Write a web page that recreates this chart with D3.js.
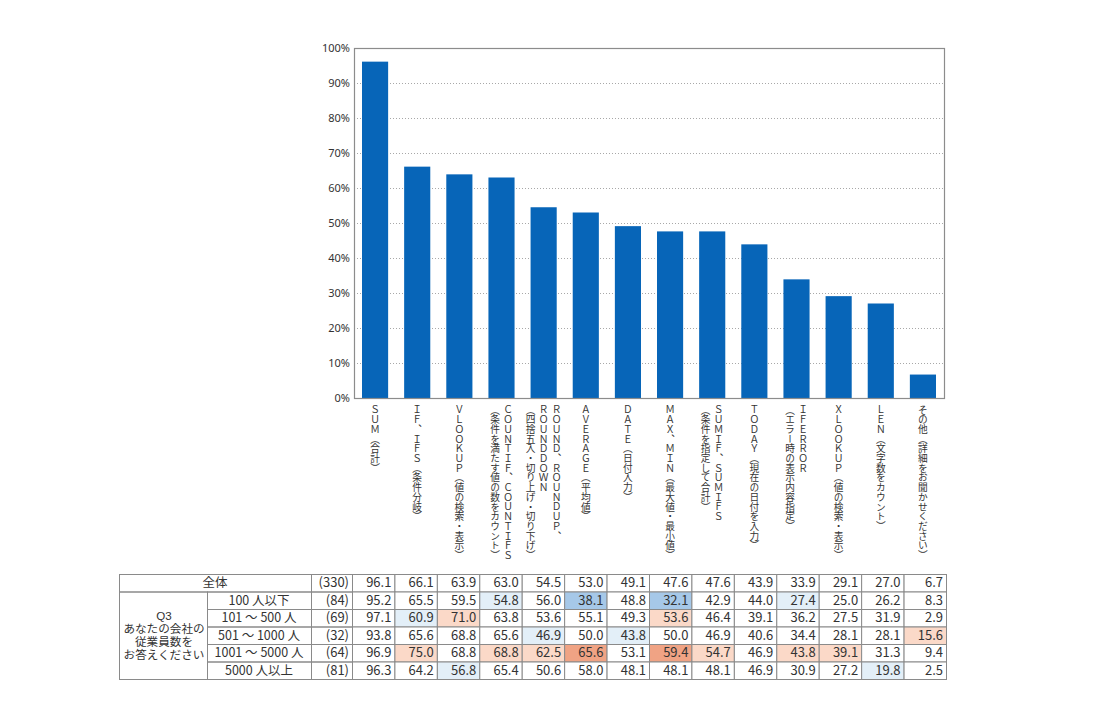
<!DOCTYPE html>
<html>
<head>
<meta charset="utf-8">
<script src="https://cdn.jsdelivr.net/npm/d3@7"></script>
<style>
  body { margin: 0; background: #fff; }
  text { font-family: "Noto Sans CJK JP", "Noto Sans", sans-serif; fill: #333; }
</style>
</head>
<body>
<svg id="chart" width="1100" height="715"></svg>
<script>
// functions asked about (x axis), one entry of lines per bar
var categories = [
  ['ＳＵＭ（合計）'],
  ['ＩＦ、ＩＦＳ（条件分岐）'],
  ['ＶＬＯＯＫＵＰ（値の検索・表示）'],
  ['ＣＯＵＮＴＩＦ、ＣＯＵＮＴＩＦＳ', '（条件を満たす値の数をカウント）'],
  ['ＲＯＵＮＤ、ＲＯＵＮＤＵＰ、', 'ＲＯＵＮＤＤＯＷＮ', '（四捨五入・切り上げ・切り下げ）'],
  ['ＡＶＥＲＡＧＥ（平均値）'],
  ['ＤＡＴＥ（日付入力）'],
  ['ＭＡＸ、ＭＩＮ（最大値・最小値）'],
  ['ＳＵＭＩＦ、ＳＵＭＩＦＳ', '（条件を指定して合計）'],
  ['ＴＯＤＡＹ（現在の日付を入力）'],
  ['ＩＦＥＲＲＯＲ', '（エラー時の表示内容指定）'],
  ['ＸＬＯＯＫＵＰ（値の検索・表示）'],
  ['ＬＥＮ（文字数をカウント）'],
  ['その他（詳細をお聞かせください）']
];

var yTicks = [0, 10, 20, 30, 40, 50, 60, 70, 80, 90, 100];

// table rows
var totalLabel = '全体';
var questionLines = ['Q3', 'あなたの会社の', '従業員数を', 'お答えください'];
var groupLabels = ['100 人以下', '101 ～ 500 人', '501 ～ 1000 人', '1001 ～ 5000 人', '5000 人以上'];
var counts = [330, 84, 69, 32, 64, 81];

var total      = [96.1, 66.1, 63.9, 63.0, 54.5, 53.0, 49.1, 47.6, 47.6, 43.9, 33.9, 29.1, 27.0, 6.7];
var upTo100    = [95.2, 65.5, 59.5, 54.8, 56.0, 38.1, 48.8, 32.1, 42.9, 44.0, 27.4, 25.0, 26.2, 8.3];
var from101    = [97.1, 60.9, 71.0, 63.8, 53.6, 55.1, 49.3, 53.6, 46.4, 39.1, 36.2, 27.5, 31.9, 2.9];
var from501    = [93.8, 65.6, 68.8, 65.6, 46.9, 50.0, 43.8, 50.0, 46.9, 40.6, 34.4, 28.1, 28.1, 15.6];
var from1001   = [96.9, 75.0, 68.8, 68.8, 62.5, 65.6, 53.1, 59.4, 54.7, 46.9, 43.8, 39.1, 31.3, 9.4];
var over5000   = [96.3, 64.2, 56.8, 65.4, 50.6, 58.0, 48.1, 48.1, 48.1, 46.9, 30.9, 27.2, 19.8, 2.5];

var rows = [total, upTo100, from101, from501, from1001, over5000];

var svg = d3.select('#chart');
var idx = d3.range(categories.length);

// ---- bar chart ----
var plot = { left: 354, right: 944, top: 48, bottom: 398 };

var x = d3.scaleBand().domain(idx).range([plot.left, plot.right])
  .paddingInner(0.38).paddingOuter(0.19);
var y = d3.scaleLinear().domain([0, 100]).range([plot.bottom, plot.top]);

svg.append('g').attr('class', 'grid')
  .selectAll('line')
  .data(yTicks.filter(function(t) { return t > 0 && t < 100; }))
  .enter().append('line')
  .attr('x1', plot.left).attr('x2', plot.right)
  .attr('y1', function(d) { return y(d) + 0.5; })
  .attr('y2', function(d) { return y(d) + 0.5; })
  .style('stroke', '#a8a8a8')
  .style('stroke-dasharray', '1,2');

svg.append('g').attr('class', 'bars')
  .selectAll('rect')
  .data(total)
  .enter().append('rect')
  .attr('x', function(d, i) { return x(i); })
  .attr('y', function(d) { return y(d); })
  .attr('width', x.bandwidth())
  .attr('height', function(d) { return y(0) - y(d); })
  .style('fill', '#0765b8');

svg.append('rect')
  .attr('x', plot.left + 0.5).attr('y', plot.top + 0.5)
  .attr('width', plot.right - plot.left).attr('height', plot.bottom - plot.top)
  .style('fill', 'none').style('stroke', '#8c8c8c').style('stroke-width', 1.2);

var yAxis = d3.axisLeft(y).tickValues(yTicks).tickSize(0).tickPadding(4)
  .tickFormat(function(d) { return d + '%'; });
var yg = svg.append('g').attr('transform', 'translate(' + plot.left + ',0)').call(yAxis);
yg.select('.domain').remove();
yg.selectAll('text')
  .style('font-family', '"Noto Sans", sans-serif')
  .style('font-size', '11px')
  .style('fill', '#333');

// vertical category labels
var lineGap = 13;
var labels = svg.append('g').attr('class', 'x-labels');
categories.forEach(function(lines, i) {
  var cx = x(i) + x.bandwidth() / 2;
  labels.selectAll(null)
    .data(lines)
    .enter().append('text')
    .attr('x', function(d, j) { return cx + ((lines.length - 1) / 2 - j) * lineGap; })
    .attr('y', 405)
    .style('writing-mode', 'vertical-rl')
    .style('font-size', '9.7px')
    .text(function(d) { return d; });
});

// ---- table ----
var tbl = { left: 119, groupRight: 207, labelRight: 311, nRight: 352, right: 946, top: 574, rowH: 17.5 };
var col = d3.scaleBand().domain(idx).range([tbl.nRight, tbl.right]);
var rowY = function(r) { return tbl.top + r * tbl.rowH; };

function cellFill(v, base) {
  var d = Math.round((v - base) * 10) / 10;
  if (d > 10) return '#f0a384';
  if (d > 5) return '#fbd9c8';
  if (d < -10) return '#a6c8e8';
  if (d < -5) return '#e3eff8';
  return '#fff';
}

var tg = svg.append('g').attr('class', 'table');
var border = '#8a8a8a';

rows.forEach(function(vals, r) {
  tg.selectAll(null)
    .data(vals)
    .enter().append('rect')
    .attr('x', function(d, i) { return col(i) + 0.5; })
    .attr('y', rowY(r) + 0.5)
    .attr('width', col.bandwidth())
    .attr('height', tbl.rowH)
    .style('fill', function(d, i) { return cellFill(d, total[i]); })
    .style('stroke', border);

  tg.selectAll(null)
    .data(vals)
    .enter().append('text')
    .attr('x', function(d, i) { return col(i) + col.bandwidth() - 3; })
    .attr('y', rowY(r) + tbl.rowH / 2 + 1)
    .attr('text-anchor', 'end')
    .attr('dominant-baseline', 'middle')
    .style('font-size', '13px')
    .text(function(d) { return d.toFixed(1); });

  tg.append('rect')
    .attr('x', tbl.labelRight + 0.5).attr('y', rowY(r) + 0.5)
    .attr('width', tbl.nRight - tbl.labelRight).attr('height', tbl.rowH)
    .style('fill', 'none').style('stroke', border);
  tg.append('text')
    .attr('x', tbl.nRight - 3)
    .attr('y', rowY(r) + tbl.rowH / 2 + 1)
    .attr('text-anchor', 'end')
    .attr('dominant-baseline', 'middle')
    .style('font-size', '13px')
    .text('(' + counts[r] + ')');
});

// 全体 row label
tg.append('rect')
  .attr('x', tbl.left + 0.5).attr('y', rowY(0) + 0.5)
  .attr('width', tbl.labelRight - tbl.left).attr('height', tbl.rowH)
  .style('fill', 'none').style('stroke', border);
tg.append('text')
  .attr('x', (tbl.left + tbl.labelRight) / 2)
  .attr('y', rowY(0) + tbl.rowH / 2 + 1)
  .attr('text-anchor', 'middle').attr('dominant-baseline', 'middle')
  .style('font-size', '12.5px')
  .text(totalLabel);

// question cell spanning the group rows
tg.append('rect')
  .attr('x', tbl.left + 0.5).attr('y', rowY(1) + 0.5)
  .attr('width', tbl.groupRight - tbl.left).attr('height', tbl.rowH * groupLabels.length)
  .style('fill', 'none').style('stroke', border);
var qMid = rowY(1) + tbl.rowH * groupLabels.length / 2;
var qGap = 13;
tg.selectAll(null)
  .data(questionLines)
  .enter().append('text')
  .attr('x', (tbl.left + tbl.groupRight) / 2 + 1)
  .attr('y', function(d, i) { return qMid + (i - (questionLines.length - 1) / 2) * qGap + 4; })
  .attr('text-anchor', 'middle')
  .style('font-family', '"Liberation Sans", "Noto Sans CJK JP", sans-serif')
  .style('font-size', '11.6px')
  .text(function(d) { return d; });

groupLabels.forEach(function(lbl, g) {
  tg.append('rect')
    .attr('x', tbl.groupRight + 0.5).attr('y', rowY(g + 1) + 0.5)
    .attr('width', tbl.labelRight - tbl.groupRight).attr('height', tbl.rowH)
    .style('fill', 'none').style('stroke', border);
  tg.append('text')
    .attr('x', (tbl.groupRight + tbl.labelRight) / 2)
    .attr('y', rowY(g + 1) + tbl.rowH / 2 + 1)
    .attr('text-anchor', 'middle').attr('dominant-baseline', 'middle')
    .style('font-size', '12.5px')
    .text(lbl);
});
</script>
</body>
</html>
